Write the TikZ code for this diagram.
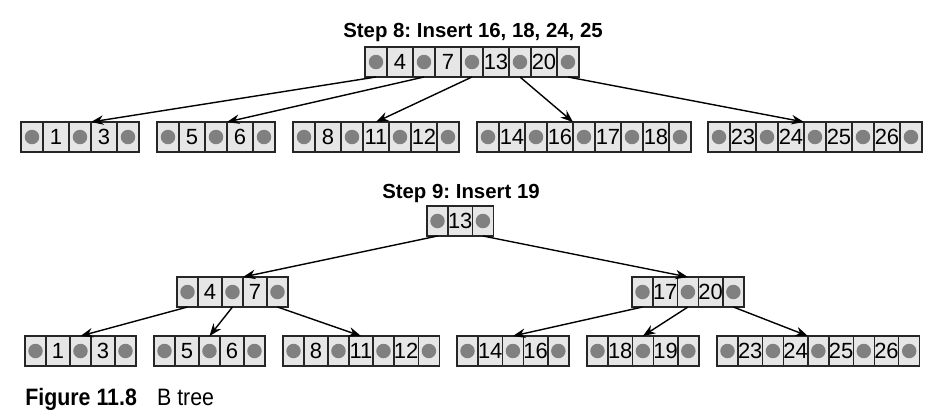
\documentclass[tikz,border=0pt]{standalone}
\usepackage{fontspec}
\setmainfont{Liberation Sans}
\usetikzlibrary{positioning,arrows.meta}
\definecolor{cellgray}{HTML}{E6E6E6}
\definecolor{dotgray}{HTML}{808080}
\frenchspacing
\tikzset{>={Stealth[length=2.5mm,width=1.9mm]}}
\def\ptrw{0.44cm}
\def\keyw{0.52cm}
\tikzset{
  cell/.style={draw=black!85, fill=cellgray, line width=0.75pt, minimum height=0.6cm,
    inner sep=0pt, outer sep=0pt, font=\fontsize{12.5}{14}\selectfont},
  ptrcell/.style={cell, minimum width=\ptrw,
    path picture={\fill[dotgray] (path picture bounding box.center) circle (0.145cm);}},
  keycell/.style={cell, minimum width=\keyw},
  title/.style={font=\fontsize{11.6}{14}\selectfont\bfseries, inner sep=0pt, anchor=base},
  link/.style={->, line width=0.8pt},
}
\newcommand{\btnode}[3]{%
  \node[ptrcell, anchor=north west] (#1-p0) at (#2) {};
  \foreach \k [count=\i] in {#3} {
    \pgfmathtruncatemacro{\j}{\i-1}
    \node[keycell, right=0pt of #1-p\j] (#1-k\i) {\k};
    \node[ptrcell, right=0pt of #1-k\i] (#1-p\i) {};
  }%
}

\begin{document}
\begin{tikzpicture}[x=0.02cm,y=-0.02cm]
\useasboundingbox (0,0) rectangle (937,410);

\btnode{r8}{365,47}{4,7,13,20}
\btnode{l1}{21,122}{1,3}
\btnode{l2}{157,122}{5,6}
\btnode{l3}{293,122}{8,11,12}
\btnode{l4}{477,122}{14,16,17,18}
\btnode{l5}{708,122}{23,24,25,26}
\node[title] (t8) at (473,37) {Step 8: Insert 16, 18, 24, 25};

\draw[link] (r8-p0.south) -- (l1-p1.north east);
\draw[link] (r8-p1.south) -- (l2-p1.north east);
\draw[link] (r8-p2.south) -- (l3-k2.north);
\draw[link] (r8-p3.south) -- (l4-p2.north west);
\draw[link] (r8-p4.south) -- (l5-p2.north west);

\def\ptrw{0.42cm}
\def\keyw{0.48cm}
\btnode{r9}{427,206}{13}
\btnode{m1}{177,277}{4,7}
\btnode{m2}{632,277}{17,20}
\btnode{a1}{25,336}{1,3}
\btnode{a2}{154,336}{5,6}
\btnode{a3}{283,336}{8,11,12}
\btnode{a4}{457,336}{14,16}
\btnode{a5}{587,336}{18,19}
\btnode{a6}{717,336}{23,24,25,26}
\node[title] (t9) at (461,198) {Step 9: Insert 19};

\draw[link] (r9-p0.south) -- (m1-p1.north east);
\draw[link] (r9-p1.south) -- (m2-p1.north);
\draw[link] (m1-p0.south) -- (a1-p1.north);
\draw[link] (m1-p1.south) -- (a2-p1.north);
\draw[link] (m1-p2.south) -- (a3-k2.north);
\draw[link] (m2-p0.south) -- (a4-p1.north);
\draw[link] (m2-p1.south) -- (a5-p1.north);
\draw[link] (m2-p2.south) -- (a6-p2.north west);

\node[anchor=base west, inner sep=0pt, font=\fontsize{13.5}{16}\selectfont] (cap) at (25,405)
  {\scalebox{0.9}[1]{\textbf{Figure 11.8}\hspace{0.45cm}B tree}};
\end{tikzpicture}
\end{document}
